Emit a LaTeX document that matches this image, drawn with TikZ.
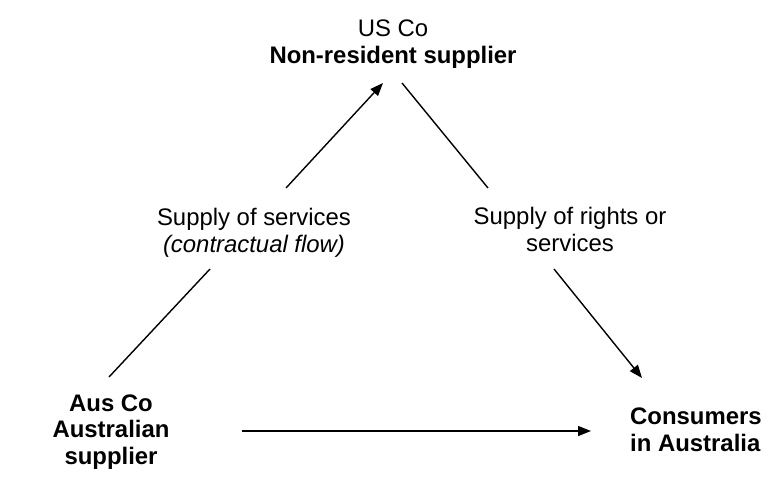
\documentclass[tikz,border=0pt]{standalone}
\usepackage{fontspec}
\setmainfont{Liberation Sans}
\usetikzlibrary{arrows.meta}

\begin{document}
\begin{tikzpicture}[x=1pt, y=-1pt,
    every node/.style={inner sep=0pt, anchor=base, align=center, font=\fontsize{23.9}{26.5}\selectfont},
    link/.style={line width=1.4pt},
    flow/.style={link, -{Triangle[length=13pt, width=10pt]}}]
  \useasboundingbox (0,0) rectangle (781,483);

  % 1) Parties
  \node (us) at (393,63) {US Co\\\textbf{Non-resident supplier}};
  \node (aus) at (111,464) {\textbf{Aus Co}\\\textbf{Australian}\\\textbf{supplier}};
  \node[anchor=base west, align=left] (cons) at (630,451) {\textbf{Consumers}\\\textbf{in Australia}};

  % 2) Flow labels
  \node (svc) at (254,252) {Supply of services\\\textit{(contractual flow)}};
  \node (rights) at (570,251) {Supply of rights or\\services};

  % 3) Line ends
  \coordinate (ausUp) at (109,377);
  \coordinate (svcLo) at (210,269);
  \coordinate (svcUp) at (286,188);
  \coordinate (usL) at (383,83);
  \coordinate (usR) at (402,83);
  \coordinate (rightsUp) at (488,188);
  \coordinate (rightsLo) at (554,269);
  \coordinate (consUp) at (642,378);
  \coordinate (ausR) at (242,431);
  \coordinate (consL) at (591,431);

  % 4) Flows
  \draw[link] (ausUp) -- (svcLo);
  \draw[flow] (svcUp) -- (usL);
  \draw[link] (usR) -- (rightsUp);
  \draw[flow] (rightsLo) -- (consUp);
  \draw[flow] (ausR) -- (consL);
\end{tikzpicture}
\end{document}
